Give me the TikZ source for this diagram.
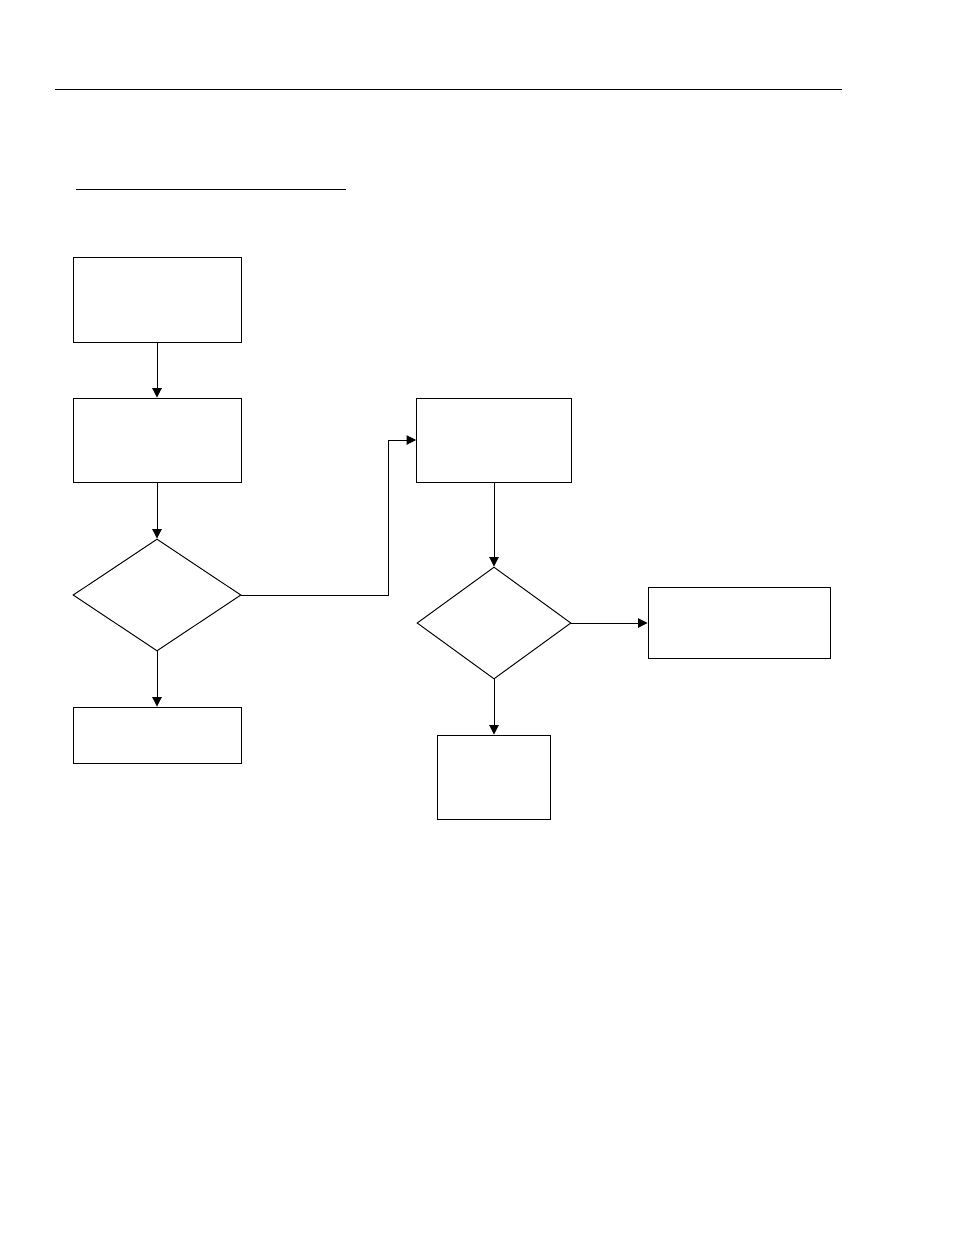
\documentclass[tikz,border=0pt]{standalone}
\usetikzlibrary{shapes.geometric,arrows.meta}
\tikzset{
  box/.style={draw,rectangle,inner sep=0pt},
  choice/.style={draw,diamond,inner sep=0pt},
  flow/.style={-{Triangle[length=0.19cm,width=0.19cm]}},
}
\begin{document}
\begin{tikzpicture}[x=0.02cm,y=-0.02cm,line width=0.55pt]
            \useasboundingbox(0,0)rectangle(954,1235);
            \draw(55,89)--(842,89);
            \draw(76,189)--(346,189);
            \node[box,minimum width=3.36cm,minimum height=1.7cm](A)at(157,299.5){};
            \node[box,minimum width=3.36cm,minimum height=1.68cm](B)at(157,440){};
            \node[choice,minimum width=3.36cm,minimum height=2.24cm](C)at(157,595){};
            \node[box,minimum width=3.36cm,minimum height=1.12cm](D)at(157,735){};
            \node[box,minimum width=3.1cm,minimum height=1.68cm](E)at(494,440){};
            \node[choice,minimum width=3.08cm,minimum height=2.24cm](F)at(494,623){};
            \node[box,minimum width=3.64cm,minimum height=1.42cm](G)at(739,623){};
            \node[box,minimum width=2.26cm,minimum height=1.68cm](H)at(494,777){};
            \path(C.east)--+(147,0)coordinate(K0);
            \draw[flow](A)--(B);
            \draw[flow](B)--(C);
            \draw[flow](C)--(D);
            \draw[flow](C.east)--(K0)|-(E.west);
            \draw[flow](E)--(F);
            \draw[flow](F)--(G);
            \draw[flow](F)--(H);
        \end{tikzpicture}
\end{document}
